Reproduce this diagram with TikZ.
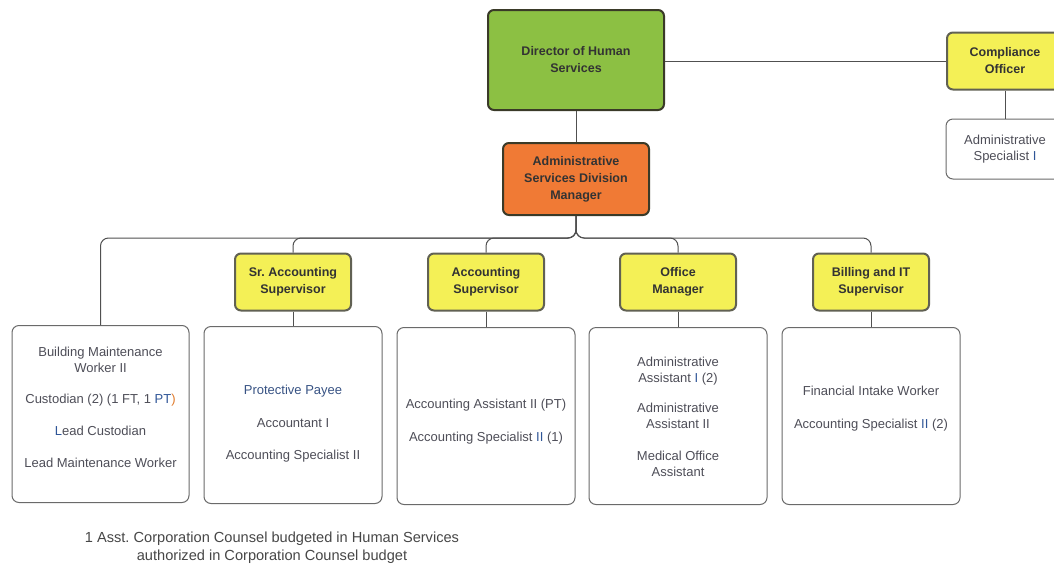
\documentclass[tikz,border=0pt]{standalone}
\usepackage{fontspec}
\setmainfont{Liberation Sans}
\frenchspacing
\definecolor{linegray}{HTML}{505050}
\definecolor{txtgray}{HTML}{4E4E58}
\definecolor{boxedge}{HTML}{6A6A6A}
\definecolor{chiefgreen}{HTML}{8CC043}
\definecolor{mgrorange}{HTML}{F07A35}
\definecolor{supyellow}{HTML}{F4F056}
\definecolor{edgedark}{HTML}{3A3A28}
\definecolor{tagblue}{HTML}{2F5597}
\definecolor{tagorange}{HTML}{E07A2A}
\tikzset{
  conn/.style={draw=linegray, line width=1pt},
  tree/.style={conn, rounded corners=8pt},
  headbox/.style={draw=edgedark, line width=2pt, rounded corners=6pt,
    align=center, font=\fontsize{12.5}{17}\selectfont\bfseries, text=black!80,
    inner sep=0pt},
  chief/.style={headbox, fill=chiefgreen, minimum width=176pt, minimum height=100pt},
  manager/.style={headbox, fill=mgrorange, minimum width=146pt, minimum height=72pt},
  supbox/.style={headbox, fill=supyellow, draw=edgedark!80, minimum width=116pt, minimum height=57pt},
  staffbox/.style={draw=boxedge, line width=1pt, rounded corners=7pt, fill=white,
    minimum width=178pt, minimum height=177pt, inner sep=0pt},
  stafftext/.style={align=center, font=\fontsize{13}{16}\selectfont, text=txtgray, inner sep=0pt},
  smallstaff/.style={staffbox, stafftext, minimum width=118pt, minimum height=60pt},
  note/.style={align=center, font=\fontsize{14.6}{18}\selectfont, text=black!72}
}
\begin{document}
\begin{tikzpicture}[x=1pt, y=-1pt]
\useasboundingbox[fill=white] (0,0) rectangle (1054,565);

% top of the chart
\node[chief] (dir) at (576,60) {Director of Human\\Services};
\node[manager] (asdm) at (576,179) {Administrative\\Services Division\\Manager};
\node[supbox] (comp) at (1005,61) {Compliance\\Officer};
\node[smallstaff] (aspec) at (1005,149) {Administrative\\Specialist \textcolor{tagblue}{I}};

% supervisors
\node[supbox] (sracc) at (293,282) {Sr. Accounting\\Supervisor};
\node[supbox] (acc) at (486,282) {Accounting\\Supervisor};
\node[supbox] (office) at (678,282) {Office\\Manager};
\node[supbox] (bill) at (871,282) {Billing and IT\\Supervisor};

% staff group frames
\node[staffbox, minimum width=177pt] (maint) at (100.5,414) {};
\node[staffbox] (sraccstaff) at (293,415) {};
\node[staffbox] (accstaff) at (486,416) {};
\node[staffbox] (officestaff) at (678,416) {};
\node[staffbox] (billstaff) at (871,416) {};

% staff group positions
\node[stafftext] (mainttxt) at (100.5,407)
  {Building Maintenance\\Worker II\\[15pt]
   Custodian (2) (1 FT, 1 \textcolor{tagblue}{PT}\textcolor{tagorange}{)}\\[16pt]
   \textcolor{tagblue}{L}ead Custodian\\[16pt]
   Lead Maintenance Worker};
\node[stafftext] (sracctxt) at (293,423.5)
  {\textcolor{tagblue!70!txtgray}{Protective Payee}\\[17pt]
   Accountant I\\[16pt]
   Accounting Specialist II};
\node[stafftext] (acctxt) at (486,421.5)
  {Accounting Assistant II (PT)\\[17pt]
   Accounting Specialist \textcolor{tagblue}{II} (1)};
\node[stafftext] (officetxt) at (678,417)
  {Administrative\\Assistant \textcolor{tagblue}{I} (2)\\[14pt]
   Administrative\\Assistant II\\[16pt]
   Medical Office\\Assistant};
\node[stafftext] (billtxt) at (871,408.5)
  {Financial Intake Worker\\[17pt]
   Accounting Specialist \textcolor{tagblue}{II} (2)};

% connectors
\draw[conn] (dir.south) -- (asdm.north);
\draw[conn] (dir.east |- comp.west) -- (comp.west);
\draw[conn] (comp.south) -- (aspec.north);
\foreach \t in {maint, sracc, acc, office, bill}
  \draw[tree] (asdm.south) -- ++(0,22) -| (\t.north);
\draw[conn] (sracc.south) -- (sraccstaff.north);
\draw[conn] (acc.south) -- (accstaff.north);
\draw[conn] (office.south) -- (officestaff.north);
\draw[conn] (bill.south) -- (billstaff.north);

% footnote
\node[note] (foot) at (272,548)
  {1 Asst. Corporation Counsel budgeted in Human Services\\
   authorized in Corporation Counsel budget};
\end{tikzpicture}
\end{document}
